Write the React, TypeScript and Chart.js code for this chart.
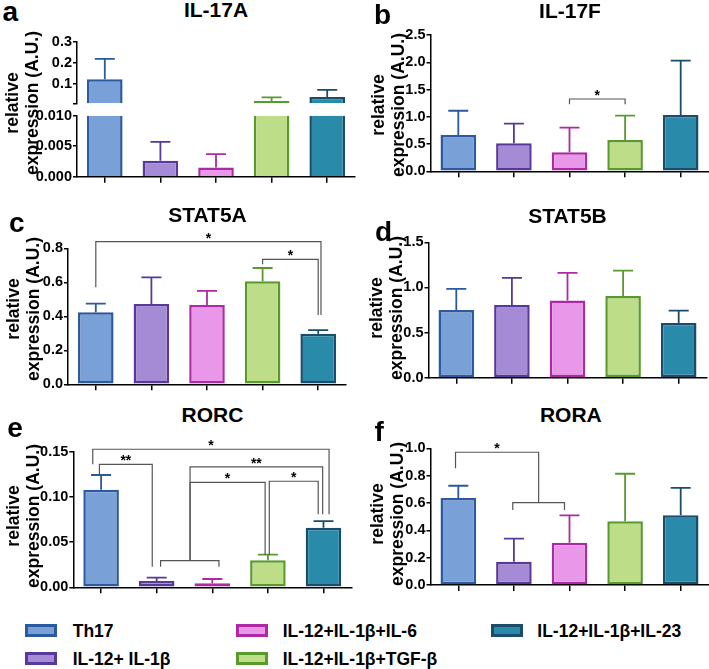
import React, { useEffect, useRef } from 'react';
import { Chart, registerables } from 'chart.js';

Chart.register(...registerables);

const FONT = '"Liberation Sans", Arial, Helvetica, sans-serif';
Chart.defaults.font.family = FONT;

// ---------- data ----------
const groups = ['Th17', 'IL-12+ IL-1β', 'IL-12+IL-1β+IL-6', 'IL-12+IL-1β+TGF-β', 'IL-12+IL-1β+IL-23'];
const fillColors = ['#7aa0d8', '#a58bd6', '#e997e8', '#bddd89', '#2a8aaa'];
const borderColors = ['#2b5a9e', '#57399a', '#ad2aa4', '#5a9a2d', '#1a4d6a'];

// a: IL-17A (broken axis)
const il17aMean = [0.123, 0.0026, 0.0015, 0.021, 0.040];
const il17aSD = [0.096, 0.0031, 0.0022, 0.017, 0.033];
const il17aUpperTicks = [0.01, 0.1, 0.2, 0.3];
const il17aUpperLabels = ['', '0.1', '0.2', '0.3'];
const il17aLowerTicks = [0, 0.005, 0.01];
const il17aLowerLabels = ['0.000', '0.005', '0.010'];

// b: IL-17F
const il17fMean = [0.666, 0.514, 0.348, 0.574, 1.033];
const il17fSD = [0.445, 0.36, 0.452, 0.446, 0.996];
const il17fTicks = [0, 0.5, 1, 1.5, 2, 2.5];
const il17fLabels = ['0.0', '0.5', '1.0', '1.5', '2.0', '2.5'];

// c: STAT5A
const stat5aMean = [0.424, 0.472, 0.466, 0.606, 0.298];
const stat5aSD = [0.05, 0.157, 0.083, 0.078, 0.021];
const stat5aTicks = [0, 0.2, 0.4, 0.6, 0.8];
const stat5aLabels = ['0.0', '0.2', '0.4', '0.6', '0.8'];

// d: STAT5B
const stat5bMean = [0.75, 0.806, 0.854, 0.906, 0.606];
const stat5bSD = [0.233, 0.299, 0.307, 0.28, 0.137];
const stat5bTicks = [0, 0.5, 1, 1.5];
const stat5bLabels = ['0.0', '0.5', '1.0', '1.5'];

// e: RORC
const rorcMean = [0.108, 0.007, 0.0044, 0.0299, 0.0659];
const rorcSD = [0.0162, 0.0036, 0.0048, 0.0062, 0.0074];
const rorcTicks = [0, 0.05, 0.1, 0.15];
const rorcLabels = ['0.00', '0.05', '0.10', '0.15'];

// f: RORA
const roraMean = [0.636, 0.17, 0.309, 0.466, 0.51];
const roraSD = [0.09, 0.169, 0.201, 0.348, 0.2];
const roraTicks = [0, 0.2, 0.4, 0.6, 0.8, 1.0];
const roraLabels = ['0.0', '0.2', '0.4', '0.6', '0.8', '1.0'];

// significance brackets (category index from/to, values in data units)
type Bracket = { from: number; to: number; top: number; leftEnd: number; rightEnd: number; label: string };
const il17fBrackets: Bracket[] = [{ from: 2, to: 3, top: 1.326, leftEnd: 1.229, rightEnd: 1.229, label: '*' }];
const stat5aBrackets: Bracket[] = [
  { from: 0, to: 4.05, top: 0.839, leftEnd: 0.571, rightEnd: 0.408, label: '*' },
  { from: 3, to: 4, top: 0.735, leftEnd: 0.706, rightEnd: 0.408, label: '*' },
];
const rorcBrackets: Bracket[] = [
  { from: -0.15, to: 4.1, top: 0.1527, leftEnd: 0.136, rightEnd: 0.0808, label: '*' },
  { from: -0.03, to: 0.92, top: 0.136, leftEnd: 0.1242, rightEnd: 0.0228, label: '**' },
  { from: 1.07, to: 2.12, top: 0.0294, leftEnd: 0.0228, rightEnd: 0.0228, label: '' },
  { from: 1.6, to: 3.985, top: 0.1333, leftEnd: 0.0294, rightEnd: 0.0808, label: '**' },
  { from: 1.6, to: 2.95, top: 0.1161, leftEnd: 0.0294, rightEnd: 0.0357, label: '*' },
  { from: 3.025, to: 3.905, top: 0.1173, leftEnd: 0.0357, rightEnd: 0.0808, label: '*' },
];
const roraBrackets: Bracket[] = [
  { from: 0.98, to: 1.91, top: 0.602, leftEnd: 0.549, rightEnd: 0.549, label: '' },
  { from: -0.05, to: 1.445, top: 0.971, leftEnd: 0.854, rightEnd: 0.602, label: '*' },
];

// ---------- components ----------
type Rect = { x: number; y: number; w: number; h: number };
type Plot = { l: number; t: number; r: number; b: number };

type PanelProps = {
  rect: Rect;
  plot: Plot;
  mean: number[];
  sd: number[];
  ticks: number[];
  tickLabels: string[];
  brackets?: Bracket[];
  showX?: boolean;
  clipBars?: boolean;
};

function BarPanel({ rect, plot, mean, sd, ticks, tickLabels, brackets = [], showX = true, clipBars = false }: PanelProps) {
  const ref = useRef<HTMLCanvasElement>(null);
  useEffect(() => {
    const canvas = ref.current;
    if (!canvas) return;
    const bottomSpace = rect.y + rect.h - plot.b;
    const clipToArea = (chart: any) => {
      const a = chart.chartArea;
      const ctx = chart.ctx as CanvasRenderingContext2D;
      ctx.beginPath();
      ctx.rect(a.left, a.top, a.right - a.left, a.bottom - a.top);
      ctx.clip();
    };
    const extras = {
      id: 'extras',
      beforeDatasetsDraw(chart: any) {
        chart.ctx.save();
        if (clipBars) clipToArea(chart);
      },
      afterDatasetsDraw(chart: any) {
        const ctx = chart.ctx as CanvasRenderingContext2D;
        ctx.restore();
        const xs = chart.scales.x;
        const ys = chart.scales.y;
        // error bars
        ctx.save();
        if (clipBars) clipToArea(chart);
        ctx.lineWidth = 1.8;
        mean.forEach((m, i) => {
          if (clipBars && m < ys.min) return;
          const x = xs.getPixelForValue(i);
          const y0 = ys.getPixelForValue(m);
          const y1 = ys.getPixelForValue(m + sd[i]);
          ctx.strokeStyle = borderColors[i];
          ctx.beginPath();
          ctx.moveTo(x, y0);
          ctx.lineTo(x, y1);
          ctx.moveTo(x - 10, y1);
          ctx.lineTo(x + 10, y1);
          ctx.stroke();
        });
        ctx.restore();
        // brackets
        ctx.save();
        ctx.strokeStyle = '#555555';
        ctx.lineWidth = 1.2;
        ctx.fillStyle = '#000';
        ctx.font = `bold 14px ${FONT}`;
        ctx.textAlign = 'center';
        ctx.textBaseline = 'alphabetic';
        brackets.forEach((b) => {
          const x1 = xs.getPixelForValue(b.from);
          const x2 = xs.getPixelForValue(b.to);
          const yt = ys.getPixelForValue(b.top);
          ctx.beginPath();
          ctx.moveTo(x1, ys.getPixelForValue(b.leftEnd));
          ctx.lineTo(x1, yt);
          ctx.lineTo(x2, yt);
          ctx.lineTo(x2, ys.getPixelForValue(b.rightEnd));
          ctx.stroke();
          if (b.label) ctx.fillText(b.label, (x1 + x2) / 2, yt + 1);
        });
        ctx.restore();
      },
    };
    const chart = new Chart(canvas, {
      type: 'bar',
      data: {
        labels: groups,
        datasets: [
          {
            data: mean,
            backgroundColor: fillColors,
            borderColor: borderColors,
            borderWidth: 2.5,
            borderSkipped: clipBars ? 'start' : false,
            barPercentage: 0.64,
            categoryPercentage: 1,
          } as any,
        ],
      },
      options: {
        animation: false,
        responsive: false,
        maintainAspectRatio: false,
        devicePixelRatio: 1,
        events: [],
        layout: {
          padding: {
            left: 0,
            top: plot.t - rect.y,
            right: rect.x + rect.w - plot.r,
            bottom: showX ? 0 : bottomSpace,
          },
        },
        plugins: { legend: { display: false }, tooltip: { enabled: false }, title: { display: false } },
        scales: {
          x: {
            display: showX,
            offset: true,
            grid: { offset: false, drawOnChartArea: false, drawTicks: true, tickLength: 6, color: '#000', lineWidth: 1.5 },
            border: { display: true, color: '#000', width: 1.5 },
            ticks: { display: false },
            afterFit: (s: any) => {
              if (showX) s.height = bottomSpace;
            },
          },
          y: {
            min: ticks[0],
            max: ticks[ticks.length - 1],
            afterBuildTicks: (s: any) => {
              s.ticks = ticks.map((v) => ({ value: v }));
            },
            afterFit: (s: any) => {
              s.width = plot.l - rect.x;
            },
            ticks: {
              autoSkip: false,
              padding: 1,
              color: '#000',
              font: { family: FONT, size: 14.5, weight: 'bold' },
              callback: (_v: any, i: number) => tickLabels[i],
            },
            grid: { drawOnChartArea: false, drawTicks: true, tickLength: 4, color: '#000', lineWidth: 1.5 },
            border: { display: true, color: '#000', width: 1.5 },
          },
        },
      } as any,
      plugins: [extras as any],
    });
    return () => chart.destroy();
  }, []);
  return (
    <canvas
      ref={ref}
      width={rect.w}
      height={rect.h}
      style={{ position: 'absolute', left: rect.x, top: rect.y }}
    />
  );
}

const textBase: React.CSSProperties = {
  position: 'absolute',
  fontFamily: FONT,
  fontWeight: 'bold',
  color: '#000',
  whiteSpace: 'nowrap',
  lineHeight: 1,
};

function Title({ text, cx, baseline }: { text: string; cx: number; baseline: number }) {
  return (
    <div style={{ ...textBase, fontSize: 21, left: cx - 100, width: 200, textAlign: 'center', top: baseline - 17.8 }}>
      {text}
    </div>
  );
}

function Letter({ text, x, baseline }: { text: string; x: number; baseline: number }) {
  return <div style={{ ...textBase, fontSize: 28, left: x, top: baseline - 23.7 }}>{text}</div>;
}

function YLabel({ cx, cy }: { cx: number; cy: number }) {
  return (
    <div
      style={{
        ...textBase,
        fontSize: 17.5,
        lineHeight: '20px',
        left: cx,
        top: cy,
        textAlign: 'center',
        transform: 'translate(-50%, -50%) rotate(-90deg)',
      }}
    >
      relative
      <br />
      expression (A.U.)
    </div>
  );
}

const legendSwatchX = [25, 236, 490.7];
const legendTextX = [72.7, 282.7, 537.3];
const legendRowY = [630.5, 658.8];

function Legend() {
  return (
    <>
      {groups.map((g, i) => {
        const col = Math.floor(i / 2);
        const row = i % 2;
        const cy = legendRowY[row];
        return (
          <React.Fragment key={g}>
            <div
              style={{
                position: 'absolute',
                left: legendSwatchX[col],
                top: cy - 6.5,
                width: 32,
                height: 13,
                boxSizing: 'border-box',
                border: `3px solid ${borderColors[i]}`,
                background: fillColors[i],
              }}
            />
            <div style={{ ...textBase, fontSize: 17.5, lineHeight: '20px', left: legendTextX[col], top: cy - 10 }}>{g}</div>
          </React.Fragment>
        );
      })}
    </>
  );
}

export default function App() {
  return (
    <div style={{ position: 'absolute', left: 0, top: 0, width: 709, height: 669, background: '#fff', overflow: 'hidden' }}>
      {/* a */}
      <BarPanel
        rect={{ x: 0, y: 28, w: 359, h: 85 }}
        plot={{ l: 77, t: 41.7, r: 355, b: 103.3 }}
        mean={il17aMean}
        sd={il17aSD}
        ticks={il17aUpperTicks}
        tickLabels={il17aUpperLabels}
        showX={false}
        clipBars
      />
      <BarPanel
        rect={{ x: 0, y: 103, w: 359, h: 84 }}
        plot={{ l: 77, t: 115.7, r: 355, b: 176.7 }}
        mean={il17aMean}
        sd={il17aSD}
        ticks={il17aLowerTicks}
        tickLabels={il17aLowerLabels}
        clipBars
      />
      {/* b */}
      <BarPanel
        rect={{ x: 360, y: 15, w: 349, h: 166 }}
        plot={{ l: 430.5, t: 35, r: 708.5, b: 171.3 }}
        mean={il17fMean}
        sd={il17fSD}
        ticks={il17fTicks}
        tickLabels={il17fLabels}
        brackets={il17fBrackets}
      />
      {/* c */}
      <BarPanel
        rect={{ x: 0, y: 224, w: 352, h: 170 }}
        plot={{ l: 68, t: 248.3, r: 346, b: 384.3 }}
        mean={stat5aMean}
        sd={stat5aSD}
        ticks={stat5aTicks}
        tickLabels={stat5aLabels}
        brackets={stat5aBrackets}
      />
      {/* d */}
      <BarPanel
        rect={{ x: 360, y: 222, w: 349, h: 166 }}
        plot={{ l: 428.5, t: 242.3, r: 706.5, b: 377.7 }}
        mean={stat5bMean}
        sd={stat5bSD}
        ticks={stat5bTicks}
        tickLabels={stat5bLabels}
      />
      {/* e */}
      <BarPanel
        rect={{ x: 0, y: 432, w: 356, h: 165 }}
        plot={{ l: 73.3, t: 451.7, r: 351.3, b: 587.3 }}
        mean={rorcMean}
        sd={rorcSD}
        ticks={rorcTicks}
        tickLabels={rorcLabels}
        brackets={rorcBrackets}
      />
      {/* f */}
      <BarPanel
        rect={{ x: 360, y: 430, w: 349, h: 165 }}
        plot={{ l: 430.5, t: 448.3, r: 708.5, b: 585 }}
        mean={roraMean}
        sd={roraSD}
        ticks={roraTicks}
        tickLabels={roraLabels}
        brackets={roraBrackets}
      />

      <Title text="IL-17A" cx={216} baseline={17} />
      <Title text="IL-17F" cx={570} baseline={17.3} />
      <Title text="STAT5A" cx={207.5} baseline={222} />
      <Title text="STAT5B" cx={567.5} baseline={222.7} />
      <Title text="RORC" cx={212.5} baseline={421.7} />
      <Title text="RORA" cx={570.8} baseline={421.7} />

      <Letter text="a" x={2.5} baseline={21.7} />
      <Letter text="b" x={374} baseline={25} />
      <Letter text="c" x={9} baseline={233} />
      <Letter text="d" x={375} baseline={241.7} />
      <Letter text="e" x={7.3} baseline={438} />
      <Letter text="f" x={374.5} baseline={441.7} />

      <YLabel cx={21.7} cy={103.3} />
      <YLabel cx={387.5} cy={105} />
      <YLabel cx={22.7} cy={309.3} />
      <YLabel cx={386} cy={307.5} />
      <YLabel cx={22.5} cy={515.8} />
      <YLabel cx={387} cy={514.2} />

      <Legend />
    </div>
  );
}
